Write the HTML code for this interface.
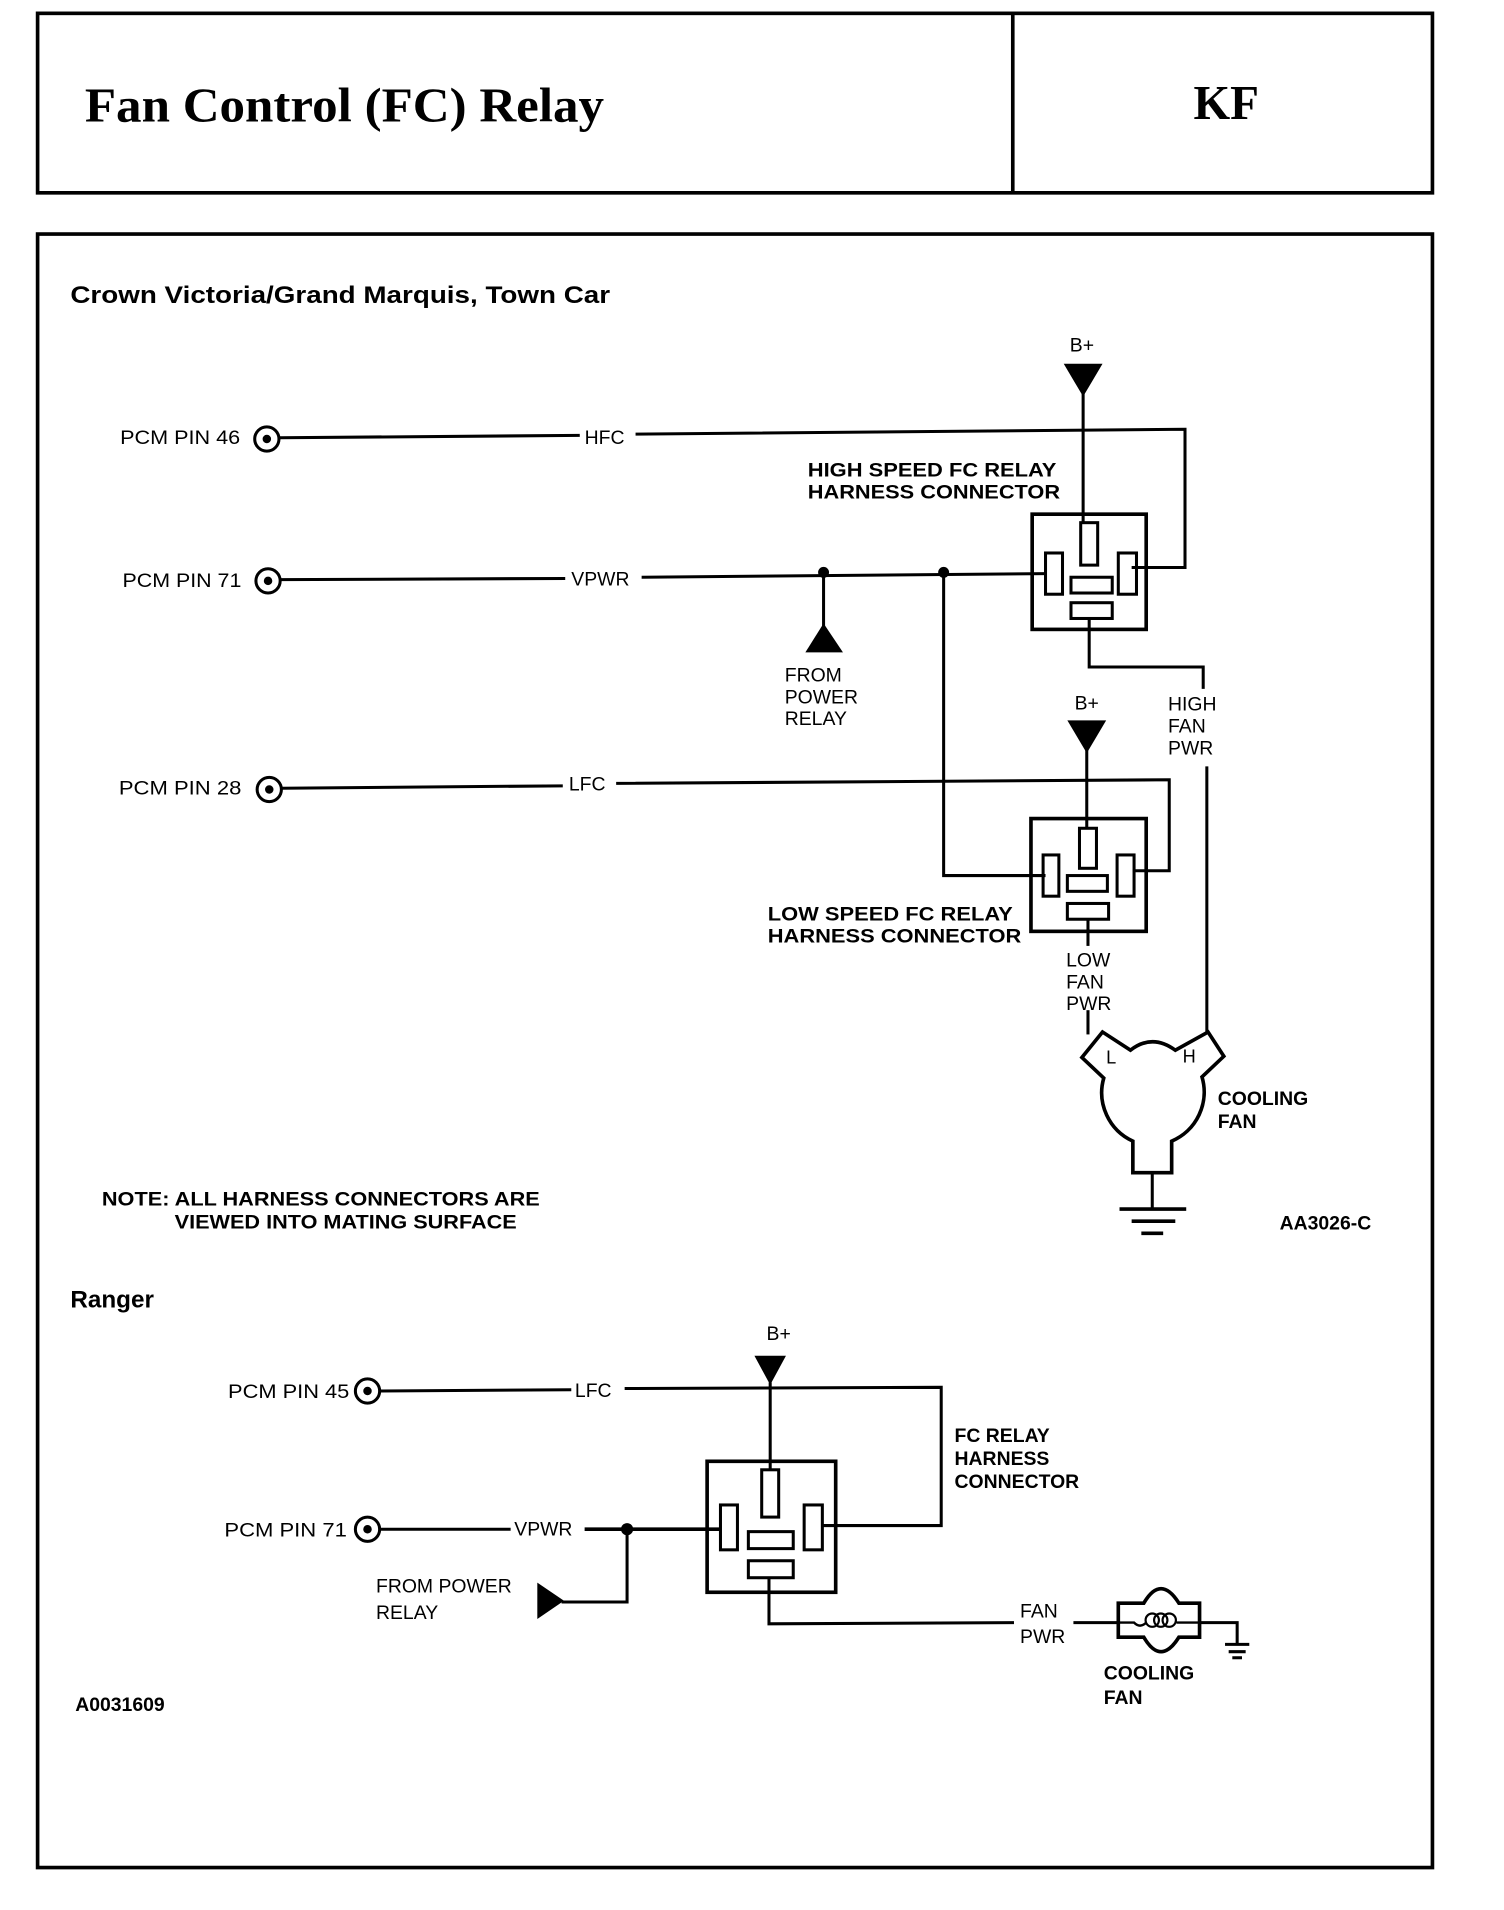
<!DOCTYPE html>
<html><head><meta charset="utf-8"><style>
html,body{margin:0;padding:0;background:#fff;}
svg{display:block;}
text{font-family:"Liberation Sans",sans-serif;fill:#000;}
.b{font-weight:bold;}
</style></head><body>
<svg width="1504" height="1910" viewBox="0 0 1240 1575" preserveAspectRatio="none" xmlns="http://www.w3.org/2000/svg">
<g fill="none" stroke="#000">
<rect x="31" y="11" width="1150" height="148" stroke-width="3"/>
<line x1="835" y1="11" x2="835" y2="159" stroke-width="3"/>
<rect x="31" y="193" width="1150" height="1347" stroke-width="3"/>

<circle cx="220" cy="362" r="10" stroke-width="2.5"/>
<polyline points="230,361 478,359" stroke-width="2.5"/>
<polyline points="524,358 977,354 977,468 933,468" stroke-width="2.5"/>
<line x1="893" y1="320" x2="893" y2="431" stroke-width="2.5"/>
<rect x="851" y="424" width="94" height="95" stroke-width="3"/>
<rect x="891" y="431" width="14" height="35" stroke-width="2.5"/>
<rect x="862" y="456" width="14" height="34" stroke-width="2.5"/>
<rect x="922" y="456" width="15" height="34" stroke-width="2.5"/>
<rect x="883" y="476" width="34" height="13" stroke-width="2.5"/>
<rect x="883" y="497" width="34" height="13" stroke-width="2.5"/>
<polyline points="898,510 898,550 992,550 992,568" stroke-width="2.5"/>
<line x1="995" y1="632" x2="995" y2="853" stroke-width="2.5"/>
<circle cx="221" cy="479" r="10" stroke-width="2.5"/>
<polyline points="231,478 466,477" stroke-width="2.5"/>
<polyline points="529,476 862,473" stroke-width="2.5"/>
<line x1="679" y1="472" x2="679" y2="520" stroke-width="2.5"/>
<polyline points="778,472 778,722 862,722" stroke-width="2.5"/>
<circle cx="222" cy="651" r="10" stroke-width="2.5"/>
<polyline points="232,650 464,648" stroke-width="2.5"/>
<polyline points="508,646 964,643 964,718 934,718" stroke-width="2.5"/>
<line x1="896" y1="615" x2="896" y2="684" stroke-width="2.5"/>
<rect x="850" y="675" width="95" height="93" stroke-width="3"/>
<rect x="890" y="683" width="14" height="33" stroke-width="2.5"/>
<rect x="860" y="705" width="13" height="34" stroke-width="2.5"/>
<rect x="921" y="705" width="14" height="34" stroke-width="2.5"/>
<rect x="880" y="722" width="33" height="13" stroke-width="2.5"/>
<rect x="880" y="745" width="34" height="13" stroke-width="2.5"/>
<line x1="897" y1="758" x2="897" y2="780" stroke-width="2.5"/>
<line x1="897" y1="833" x2="897" y2="853" stroke-width="2.5"/>
<path d="M909,851 L892,872 L910,889 A44 44 0 0 0 934,941 L934,967 L966,967 L966,941 A44 44 0 0 0 991,888 L1009,871 L996,851 L969,866 Q950,852 932,866 Z" stroke-width="3" fill="#fff"/>
<line x1="950" y1="967" x2="950" y2="997" stroke-width="2.5"/>
<line x1="923" y1="997" x2="978" y2="997" stroke-width="3"/>
<line x1="933" y1="1007" x2="969" y2="1007" stroke-width="3"/>
<line x1="941" y1="1017" x2="959" y2="1017" stroke-width="3"/>

<circle cx="303" cy="1147" r="10" stroke-width="2.5"/>
<polyline points="313,1147 471,1146" stroke-width="2.5"/>
<polyline points="515,1145 776,1144 776,1258 678,1258" stroke-width="2.5"/>
<line x1="635" y1="1140" x2="635" y2="1212" stroke-width="2.5"/>
<rect x="583" y="1205" width="106" height="108" stroke-width="3"/>
<rect x="628" y="1212" width="14" height="39" stroke-width="2.5"/>
<rect x="594" y="1241" width="14" height="37" stroke-width="2.5"/>
<rect x="663" y="1241" width="15" height="37" stroke-width="2.5"/>
<rect x="617" y="1263" width="37" height="14" stroke-width="2.5"/>
<rect x="617" y="1287" width="37" height="14" stroke-width="2.5"/>
<circle cx="303" cy="1261" r="10" stroke-width="2.5"/>
<polyline points="313,1261 421,1261" stroke-width="2.5"/>
<polyline points="482,1261 594,1261" stroke-width="3"/>
<polyline points="517,1261 517,1321 463,1321" stroke-width="2.5"/>
<polyline points="634,1301 634,1339 836,1338" stroke-width="2.5"/>
<line x1="885" y1="1338" x2="922" y2="1338" stroke-width="2.5"/>
<path d="M922,1322 L943,1322 Q957,1298 972,1322 L989,1322 L989,1350 L972,1350 Q957,1374 943,1350 L922,1350 Z" stroke-width="3" fill="#fff"/>
<path d="M922,1338 L935,1338 Q940,1343 945,1338 M970,1338 L989,1338" stroke-width="2"/>
<circle cx="950" cy="1336" r="5.5" stroke-width="1.8"/>
<circle cx="957" cy="1336" r="5.5" stroke-width="1.8"/>
<circle cx="964" cy="1336" r="5.5" stroke-width="1.8"/>
<polyline points="989,1338 1020,1338 1020,1356" stroke-width="2.5"/>
<line x1="1010" y1="1356" x2="1030" y2="1356" stroke-width="2.5"/>
<line x1="1013" y1="1362" x2="1027" y2="1362" stroke-width="2.5"/>
<line x1="1016" y1="1367" x2="1024" y2="1367" stroke-width="2.5"/>
</g>
<g fill="#000">
<circle cx="220" cy="362" r="3.5"/>
<circle cx="221" cy="479" r="3.5"/>
<circle cx="222" cy="651" r="3.5"/>
<circle cx="303" cy="1147" r="3.5"/>
<circle cx="303" cy="1261" r="3.5"/>
<circle cx="679" cy="472" r="4.5"/>
<circle cx="778" cy="472" r="4.5"/>
<circle cx="517" cy="1261" r="5"/>
<polygon points="877,300 909,300 893,327"/>
<polygon points="880,594 912,594 896,621"/>
<polygon points="679,514 664,538 695,538"/>
<polygon points="622,1118 648,1118 635,1142"/>
<polygon points="443,1305 443,1335 465,1320"/>
</g>
<text x="70" y="100" font-weight="bold" font-size="40" textLength="428" lengthAdjust="spacingAndGlyphs" style="font-family:'Liberation Serif',serif">Fan  Control  (FC)  Relay</text>
<text x="984" y="98" font-weight="bold" font-size="40" textLength="54" lengthAdjust="spacingAndGlyphs" style="font-family:'Liberation Serif',serif">KF</text>
<text class="b" x="58" y="250" font-size="20" textLength="445" lengthAdjust="spacingAndGlyphs">Crown Victoria/Grand Marquis, Town Car</text>
<g font-size="16">
<text x="882" y="290">B+</text>
<text x="99" y="366" textLength="99" lengthAdjust="spacingAndGlyphs">PCM PIN 46</text>
<text x="482" y="366">HFC</text>
<text x="101" y="484" textLength="98" lengthAdjust="spacingAndGlyphs">PCM PIN 71</text>
<text x="471" y="483">VPWR</text>
<text x="647" y="562">FROM</text>
<text x="647" y="580">POWER</text>
<text x="647" y="598">RELAY</text>
<text x="886" y="585">B+</text>
<text x="963" y="586">HIGH</text>
<text x="963" y="604">FAN</text>
<text x="963" y="622">PWR</text>
<text x="98" y="655" textLength="101" lengthAdjust="spacingAndGlyphs">PCM PIN 28</text>
<text x="469" y="652">LFC</text>
<text x="879" y="797">LOW</text>
<text x="879" y="815">FAN</text>
<text x="879" y="833">PWR</text>
<text x="912" y="877" font-size="15">L</text>
<text x="975" y="876" font-size="15">H</text>
<text x="632" y="1105">B+</text>
<text x="188" y="1153" textLength="100" lengthAdjust="spacingAndGlyphs">PCM PIN 45</text>
<text x="474" y="1152">LFC</text>
<text x="185" y="1267" textLength="101" lengthAdjust="spacingAndGlyphs">PCM PIN 71</text>
<text x="424" y="1266">VPWR</text>
<text x="310" y="1313">FROM POWER</text>
<text x="310" y="1335">RELAY</text>
<text x="841" y="1334">FAN</text>
<text x="841" y="1355">PWR</text>
</g>
<g font-size="16" font-weight="bold">
<text x="666" y="393" textLength="205" lengthAdjust="spacingAndGlyphs">HIGH SPEED FC RELAY</text>
<text x="666" y="411" textLength="208" lengthAdjust="spacingAndGlyphs">HARNESS CONNECTOR</text>
<text x="633" y="759" textLength="202" lengthAdjust="spacingAndGlyphs">LOW SPEED FC RELAY</text>
<text x="633" y="777" textLength="209" lengthAdjust="spacingAndGlyphs">HARNESS CONNECTOR</text>
<text x="1004" y="911">COOLING</text>
<text x="1004" y="930">FAN</text>
<text x="84" y="994" textLength="361" lengthAdjust="spacingAndGlyphs">NOTE: ALL HARNESS CONNECTORS ARE</text>
<text x="144" y="1013" textLength="282" lengthAdjust="spacingAndGlyphs">VIEWED INTO MATING SURFACE</text>
<text x="1055" y="1014">AA3026-C</text>
<text x="787" y="1189">FC RELAY</text>
<text x="787" y="1208">HARNESS</text>
<text x="787" y="1227">CONNECTOR</text>
<text x="910" y="1385">COOLING</text>
<text x="910" y="1405">FAN</text>
<text x="62" y="1411">A0031609</text>
</g>
<text class="b" x="58" y="1078" font-size="20">Ranger</text>
</svg>
</body></html>
